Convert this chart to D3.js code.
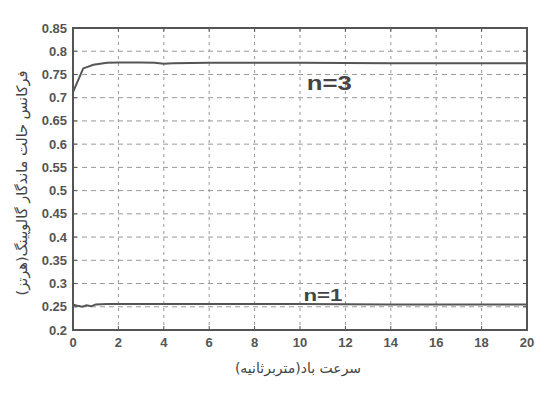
<!DOCTYPE html>
<html>
<head>
<meta charset="utf-8">
<script src="https://cdn.jsdelivr.net/npm/d3@7"></script>
<style>
  body { margin: 0; background: #fff; }
  .tick-label { font-family: "Liberation Sans", Arial, sans-serif; font-weight: bold; font-size: 13px; fill: #555; }
  .axis-title { font-family: "DejaVu Sans", sans-serif; fill: #444; }
  .series-label { font-family: "Liberation Sans", Arial, sans-serif; font-weight: bold; fill: #444; }
</style>
</head>
<body>
<script>
'use strict';

// x ticks (wind speed, m/s) and y ticks (frequency, Hz)
var xTicks = [0, 2, 4, 6, 8, 10, 12, 14, 16, 18, 20],
    yTicks = [0.2, 0.25, 0.3, 0.35, 0.4, 0.45, 0.5, 0.55, 0.6, 0.65, 0.7, 0.75, 0.8, 0.85];

// n=3 mode
var n3Speed = [0, 0.45, 0.9, 1.5, 2, 3, 3.6, 4, 4.4, 6, 10, 14, 18, 20],
    n3Freq = [0.712, 0.763, 0.771, 0.775, 0.776, 0.776, 0.775, 0.773, 0.774, 0.775, 0.775, 0.774, 0.774, 0.774];

// n=1 mode
var n1Speed = [0, 0.2, 0.4, 0.6, 0.8, 1, 1.5, 2, 6, 10, 14, 18, 20],
    n1Freq = [0.255, 0.252, 0.250, 0.253, 0.251, 0.255, 0.256, 0.256, 0.256, 0.256, 0.255, 0.255, 0.255];

var seriesLabels = ['n=3', 'n=1'];

var width = 541,
    height = 394,
    marginLeft = 73,
    marginTop = 28,
    plotWidth = 454,
    plotHeight = 302;

var svg = d3.select('body').append('svg')
    .attr('width', width)
    .attr('height', height);

var x = d3.scaleLinear().domain([0, 20]).range([0, plotWidth]),
    y = d3.scaleLinear().domain([0.2, 0.85]).range([plotHeight, 0]);

var plot = svg.append('g')
    .attr('transform', 'translate(' + marginLeft + ',' + marginTop + ')');

// dashed grid
plot.append('g').selectAll('line')
    .data(xTicks.slice(1, -1))
    .enter().append('line')
    .attr('x1', x).attr('x2', x)
    .attr('y1', 0).attr('y2', plotHeight)
    .attr('stroke', '#999')
    .attr('stroke-dasharray', '3,4');

plot.append('g').selectAll('line')
    .data(yTicks.slice(1, -1))
    .enter().append('line')
    .attr('y1', y).attr('y2', y)
    .attr('x1', 0).attr('x2', plotWidth)
    .attr('stroke', '#999')
    .attr('stroke-dasharray', '5,4');

// inward ticks on all four sides
var tickLen = 4;
plot.append('g').selectAll('line')
    .data(xTicks)
    .enter().append('line')
    .attr('x1', x).attr('x2', x)
    .attr('y1', plotHeight).attr('y2', plotHeight - tickLen)
    .attr('stroke', '#555');
plot.append('g').selectAll('line')
    .data(xTicks)
    .enter().append('line')
    .attr('x1', x).attr('x2', x)
    .attr('y1', 0).attr('y2', tickLen)
    .attr('stroke', '#555');
plot.append('g').selectAll('line')
    .data(yTicks)
    .enter().append('line')
    .attr('y1', y).attr('y2', y)
    .attr('x1', 0).attr('x2', tickLen)
    .attr('stroke', '#555');
plot.append('g').selectAll('line')
    .data(yTicks)
    .enter().append('line')
    .attr('y1', y).attr('y2', y)
    .attr('x1', plotWidth).attr('x2', plotWidth - tickLen)
    .attr('stroke', '#555');

// frame
plot.append('rect')
    .attr('width', plotWidth)
    .attr('height', plotHeight)
    .attr('fill', 'none')
    .attr('stroke', '#555')
    .attr('stroke-width', 2);

// tick labels
plot.append('g').selectAll('text')
    .data(xTicks)
    .enter().append('text')
    .attr('class', 'tick-label')
    .attr('x', x)
    .attr('y', plotHeight + 17)
    .attr('text-anchor', 'middle')
    .text(function (d) { return d; });

plot.append('g').selectAll('text')
    .data(yTicks)
    .enter().append('text')
    .attr('class', 'tick-label')
    .attr('x', -6)
    .attr('y', y)
    .attr('dy', '0.35em')
    .attr('text-anchor', 'end')
    .text(function (d) { return +d.toFixed(2); });

// series lines
var line = d3.line()
    .x(function (d) { return x(d[0]); })
    .y(function (d) { return y(d[1]); });

[[n3Speed, n3Freq], [n1Speed, n1Freq]].forEach(function (s) {
  plot.append('path')
      .datum(d3.zip(s[0], s[1]))
      .attr('fill', 'none')
      .attr('stroke', '#555')
      .attr('stroke-width', 2)
      .attr('d', line);
});

// series labels (stretched a bit, as in the scanned figure)
plot.append('text')
    .attr('class', 'series-label')
    .style('font-size', '21px')
    .attr('x', x(10.3))
    .attr('y', y(0.716))
    .attr('textLength', 45)
    .attr('lengthAdjust', 'spacingAndGlyphs')
    .text(seriesLabels[0]);
plot.append('text')
    .attr('class', 'series-label')
    .style('font-size', '17px')
    .attr('x', x(10.15))
    .attr('y', y(0.263))
    .attr('textLength', 39)
    .attr('lengthAdjust', 'spacingAndGlyphs')
    .text(seriesLabels[1]);

// axis titles
svg.append('text')
    .attr('class', 'axis-title')
    .style('font-size', '14px')
    .attr('x', 298)
    .attr('y', 373)
    .attr('text-anchor', 'middle')
    .attr('direction', 'rtl')
    .text('سرعت باد(متربرثانیه)');

svg.append('text')
    .attr('class', 'axis-title')
    .style('font-size', '14.5px')
    .attr('transform', 'translate(27,183) rotate(-90)')
    .attr('text-anchor', 'middle')
    .attr('direction', 'rtl')
    .text('فرکانس حالت ماندگار گالوپینگ(هرتز)');
</script>
</body>
</html>
